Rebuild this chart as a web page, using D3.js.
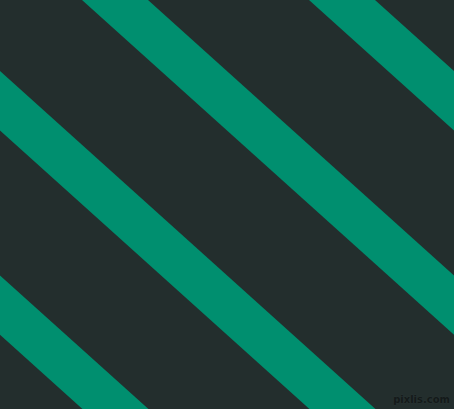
<!DOCTYPE html>
<html>
<head>
<meta charset="utf-8">
<script src="https://cdn.jsdelivr.net/npm/d3@7"></script>
<style>
  html, body { margin: 0; padding: 0; background: #232e2d; }
  svg { display: block; }
</style>
</head>
<body>
<div id="graphicContainer"></div>
<script>

// stripe indices across the pattern, and where two neighbours cross the top edge
const stripes = [-2, -1, 0, 1, 2, 3]
const stripeTopX = [115, 342]   // centre of stripe 0 and stripe 1 at y = 0
const slope = [0, 0.9]          // rise per unit run
const credit = ["pixlis.com"]

const width = 454
const height = 409
const bg = "#232e2d"
const green = "#008f6f"

const svg = d3.select("#graphicContainer").append("svg")
  .attr("width", width)
  .attr("height", height)

svg.append("rect")
  .attr("width", width)
  .attr("height", height)
  .attr("fill", bg)

// index -> x where the stripe centre meets the top edge
const x = d3.scaleLinear()
  .domain([0, 1])
  .range(stripeTopX)

const angle = Math.atan(slope[1])
// horizontal width 66px -> perpendicular width
const strokeW = 66 * Math.sin(angle)

const line = d3.line()

svg.append("g")
  .selectAll("path")
  .data(stripes)
  .enter()
  .append("path")
  .attr("d", d => {
    const x0 = x(d)
    return line([[x0 - 600, -600 * slope[1]], [x0 + 1200, 1200 * slope[1]]])
  })
  .attr("stroke", green)
  .attr("stroke-width", strokeW)
  .attr("fill", "none")

svg.append("text")
  .attr("x", width - 4)
  .attr("y", height - 6)
  .attr("text-anchor", "end")
  .style("font-family", "DejaVu Sans, sans-serif")
  .style("font-size", "10px")
  .style("font-weight", "bold")
  .attr("fill", "#141a1a")
  .attr("stroke", "#2c3836")
  .attr("stroke-width", 0.5)
  .attr("paint-order", "stroke")
  .text(credit[0])

</script>
</body>
</html>
